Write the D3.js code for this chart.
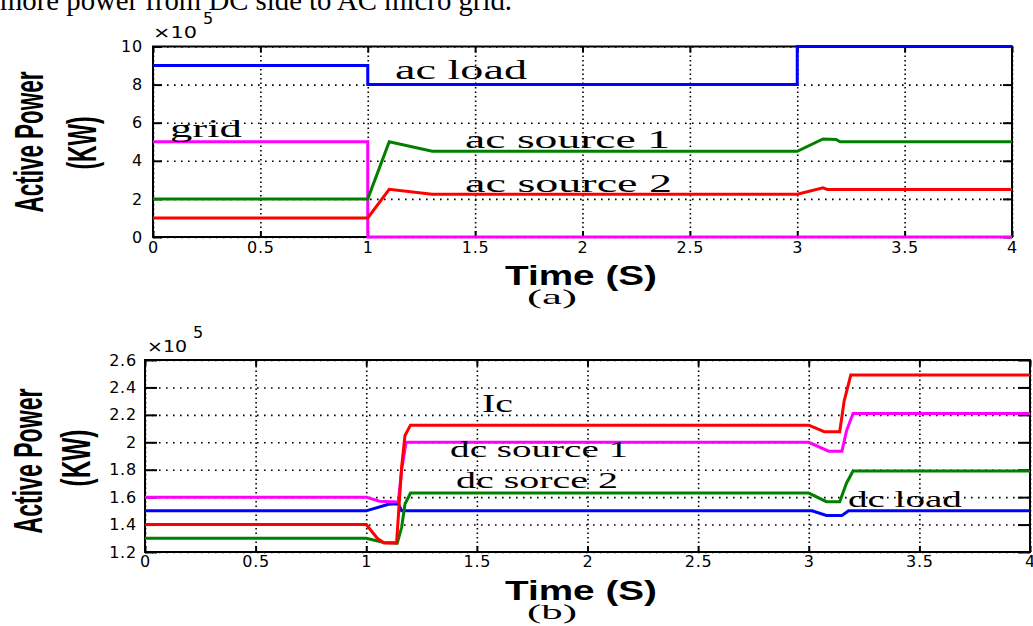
<!DOCTYPE html>
<html><head><meta charset="utf-8">
<script src="https://cdn.jsdelivr.net/npm/d3@7"></script>
<style>body{margin:0;background:#fff;overflow:hidden}svg{display:block}</style>
</head><body>
<svg id="c" width="1033" height="626"></svg>
<script>
// ---------- data ----------
const timeTicks = [0, 0.5, 1, 1.5, 2, 2.5, 3, 3.5, 4];
const timeTickLabels = ["0", "0.5", "1", "1.5", "2", "2.5", "3", "3.5", "4"];
const powerTicksA = [0, 2, 4, 6, 8, 10];
const powerTickLabelsA = ["0", "2", "4", "6", "8", "10"];
const powerTicksB = [1.2, 1.4, 1.6, 1.8, 2.0, 2.2, 2.4, 2.6];
const powerTickLabelsB = ["1.2", "1.4", "1.6", "1.8", "2", "2.2", "2.4", "2.6"];

// panel (a): [time (s), active power ×10^5]
const acLoad = [[0, 9], [1, 9], [1, 8], [3, 8], [3, 10], [4, 10]];
const gridPower = [[0, 5], [1, 5], [1, 0], [4, 0]];
const acSource1 = [[0, 2], [1, 2], [1.1, 5], [1.3, 4.5], [3, 4.5], [3.12, 5.15], [3.18, 5.12], [3.2, 5.0], [4, 5.0]];
const acSource2 = [[0, 1], [1, 1], [1.1, 2.5], [1.3, 2.25], [3, 2.25], [3.12, 2.58], [3.14, 2.5], [4, 2.5]];

// panel (b)
const dcLoad = [[0, 1.5], [1.0, 1.5], [1.1, 1.548], [1.145, 1.552], [1.16, 1.5], [3.015, 1.5], [3.08, 1.466], [3.15, 1.466], [3.18, 1.5], [4, 1.5]];
const ic = [[0, 1.4], [1.0, 1.4], [1.05, 1.3], [1.08, 1.265], [1.137, 1.265], [1.16, 1.82], [1.175, 2.05], [1.2, 2.125], [3.0, 2.125], [3.07, 2.077], [3.14, 2.077], [3.16, 2.3], [3.19, 2.49], [4, 2.49]];
const dcSource1 = [[0, 1.6], [1.0, 1.6], [1.06, 1.57], [1.145, 1.565], [1.16, 1.8], [1.18, 2.0], [3.0, 2.0], [3.09, 1.935], [3.15, 1.935], [3.17, 2.08], [3.2, 2.21], [4, 2.21]];
const dcSource2 = [[0, 1.3], [1.0, 1.3], [1.08, 1.27], [1.14, 1.265], [1.16, 1.38], [1.175, 1.55], [1.2, 1.63], [3.0, 1.63], [3.08, 1.567], [3.14, 1.567], [3.17, 1.7], [3.2, 1.79], [4, 1.79]];

const labelTextsA = ["ac load", "grid", "ac source 1", "ac source 2"];
const labelTextsB = ["Ic", "dc source 1", "dc sorce 2", "dc load"];

// ---------- layout ----------
const svg = d3.select("#c");
const BLUE = "#0000ff", MAG = "#ff00ff", GREEN = "#008000", RED = "#ff0000";

svg.append("text")
  .attr("x", 0).attr("y", 10)
  .attr("font-family", "Liberation Serif").attr("font-size", 30)
  .attr("textLength", 512).attr("lengthAdjust", "spacingAndGlyphs")
  .text("more power from DC side to AC micro grid.");

function panel(cfg) {
  const g = svg.append("g");
  const x = d3.scaleLinear().domain([0, 4]).range([cfg.x0, cfg.x1]);
  const y = d3.scaleLinear().domain(cfg.yDomain).range([cfg.yb, cfg.yt]);
  const H = cfg.yb - cfg.yt, W = cfg.x1 - cfg.x0;

  // grid
  const gx = g.append("g").attr("transform", `translate(0,${cfg.yb})`)
    .call(d3.axisBottom(x).tickValues(timeTicks).tickSize(-H).tickFormat(""));
  gx.select(".domain").remove();
  gx.selectAll("line").attr("stroke", "#000").attr("stroke-width", 1.6).attr("stroke-dasharray", "1.6,2.9");
  const gy = g.append("g").attr("transform", `translate(${cfg.x0},0)`)
    .call(d3.axisLeft(y).tickValues(cfg.yTicks).tickSize(-W).tickFormat(""));
  gy.select(".domain").remove();
  gy.selectAll("line").attr("stroke", "#000").attr("stroke-width", 1.6).attr("stroke-dasharray", "1.6,5.4");

  // ticks & labels
  const ax = g.append("g").attr("transform", `translate(0,${cfg.yb})`)
    .call(d3.axisBottom(x).tickValues(timeTicks).tickSizeInner(-6).tickSizeOuter(0)
      .tickPadding(cfg.xPad).tickFormat((d, i) => timeTickLabels[i]));
  const at = g.append("g").attr("transform", `translate(0,${cfg.yt})`)
    .call(d3.axisTop(x).tickValues(timeTicks).tickSizeInner(-6).tickSizeOuter(0).tickFormat(""));
  const ay = g.append("g").attr("transform", `translate(${cfg.x0},0)`)
    .call(d3.axisLeft(y).tickValues(cfg.yTicks).tickSizeInner(-cfg.yTick).tickSizeOuter(0)
      .tickPadding(cfg.yPad).tickFormat((d, i) => cfg.yLabels[i]));
  const ar = g.append("g").attr("transform", `translate(${cfg.x1},0)`)
    .call(d3.axisRight(y).tickValues(cfg.yTicks).tickSizeInner(-cfg.yTick).tickSizeOuter(0).tickFormat(""));
  [ax, at, ay, ar].forEach(a => {
    a.select(".domain").remove();
    a.selectAll("line").attr("stroke", "#000").attr("stroke-width", 2);
    a.selectAll("text").attr("font-family", "DejaVu Sans").attr("font-size", 16)
      .attr("letter-spacing", 0.8).attr("fill", "#000");
  });

  // box
  g.append("rect").attr("x", cfg.x0).attr("y", cfg.yt).attr("width", W).attr("height", H)
    .attr("fill", "none").attr("stroke", "#000").attr("stroke-width", 2);

  // lines
  const line = d3.line().x(d => x(d[0])).y(d => y(d[1]));
  cfg.series.forEach(s => {
    g.append("path").datum(s.data).attr("d", line).attr("fill", "none")
      .attr("stroke", s.color).attr("stroke-width", 3).attr("stroke-linejoin", "miter");
  });

  // annotations
  cfg.labels.forEach(l => {
    g.append("text").attr("x", x(l.t)).attr("y", y(l.v))
      .attr("font-family", "Liberation Serif").attr("font-size", l.size)
      .attr("textLength", l.len).attr("lengthAdjust", "spacingAndGlyphs")
      .text(l.text);
  });

  // exponent
  g.append("text").attr("x", cfg.x0 + cfg.expDx).attr("y", cfg.yt - cfg.expDy)
    .attr("font-family", "DejaVu Sans").attr("font-size", 15)
    .attr("textLength", cfg.expLen).attr("lengthAdjust", "spacingAndGlyphs").text("×10");
  g.append("text").attr("x", cfg.x0 + cfg.expDx + cfg.expLen + 6).attr("y", cfg.yt - cfg.expDy - 14)
    .attr("font-family", "DejaVu Sans").attr("font-size", 16).text("5");

  // y label
  const yl = cfg.yLabel;
  g.append("text").attr("transform", `translate(${yl.x1},${yl.cy}) rotate(-90)`)
    .attr("text-anchor", "middle").attr("font-family", "Liberation Sans").attr("font-weight", "bold")
    .attr("font-size", 40).attr("textLength", yl.len1).attr("lengthAdjust", "spacingAndGlyphs")
    .text("Active Power");
  g.append("text").attr("transform", `translate(${yl.x2},${yl.cy2}) rotate(-90)`)
    .attr("text-anchor", "middle").attr("font-family", "Liberation Sans").attr("font-weight", "bold")
    .attr("font-size", 40).attr("textLength", yl.len2).attr("lengthAdjust", "spacingAndGlyphs")
    .text("(KW)");

  // x label
  g.append("text").attr("x", 505).attr("y", cfg.timeY)
    .attr("font-family", "Liberation Sans").attr("font-weight", "bold").attr("font-size", 28)
    .attr("textLength", 152).attr("lengthAdjust", "spacingAndGlyphs").text("Time (S)");
  g.append("text").attr("x", 527).attr("y", cfg.timeY + 19)
    .attr("font-family", "Liberation Serif").attr("font-size", 21)
    .attr("textLength", 50).attr("lengthAdjust", "spacingAndGlyphs").text(cfg.tag);
}

panel({
  x0: 153, x1: 1012, yb: 237, yt: 46.5, yDomain: [0, 10],
  yTicks: powerTicksA, yLabels: powerTickLabelsA, yTick: 9, xPad: 5, yPad: 10,
  series: [
    { data: gridPower, color: MAG },
    { data: acSource2, color: RED },
    { data: acSource1, color: GREEN },
    { data: acLoad, color: BLUE }
  ],
  labels: [
    { text: labelTextsA[0], t: 1.127, v: 8.29, size: 28, len: 132 },
    { text: labelTextsA[1], t: 0.079, v: 5.25, size: 25, len: 72 },
    { text: labelTextsA[2], t: 1.453, v: 4.67, size: 25, len: 205 },
    { text: labelTextsA[3], t: 1.453, v: 2.36, size: 25, len: 207 }
  ],
  expDx: 0, expDy: 9, expLen: 44,
  yLabel: { x1: 43, cy: 142, len1: 141, x2: 96, cy2: 143, len2: 53 },
  timeY: 285, tag: "(a)"
});

panel({
  x0: 145, x1: 1030, yb: 552, yt: 360, yDomain: [1.2, 2.6],
  yTicks: powerTicksB, yLabels: powerTickLabelsB, yTick: 12, xPad: 4, yPad: 8,
  series: [
    { data: dcLoad, color: BLUE },
    { data: dcSource2, color: GREEN },
    { data: dcSource1, color: MAG },
    { data: ic, color: RED }
  ],
  labels: [
    { text: labelTextsB[0], t: 1.523, v: 2.223, size: 25, len: 31 },
    { text: labelTextsB[1], t: 1.379, v: 1.895, size: 23, len: 178 },
    { text: labelTextsB[2], t: 1.406, v: 1.664, size: 23, len: 162 },
    { text: labelTextsB[3], t: 3.177, v: 1.530, size: 23, len: 114 }
  ],
  expDx: 2, expDy: 8, expLen: 40,
  yLabel: { x1: 42, cy: 461, len1: 145, x2: 90, cy2: 458, len2: 57 },
  timeY: 600, tag: "(b)"
});
</script>
</body></html>
